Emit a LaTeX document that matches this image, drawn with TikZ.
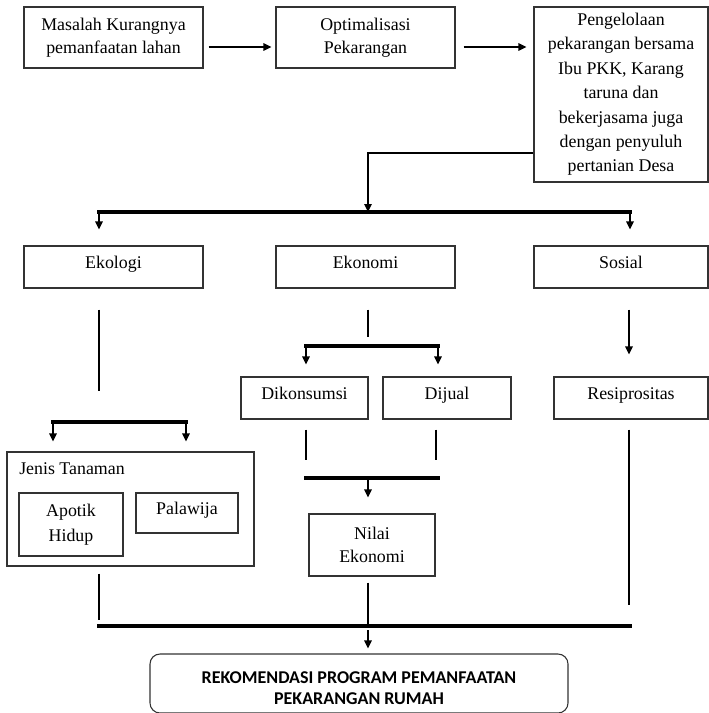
\documentclass[tikz,border=0pt]{standalone}
\usepackage{fontspec}
\setmainfont{Liberation Serif}
\newfontfamily\rekomfont{Carlito}
\usetikzlibrary{arrows.meta,calc}

\begin{document}
\begin{tikzpicture}[
  x=0.75pt,y=-0.75pt,
  font=\fontsize{13.4}{17}\selectfont,
  box/.style={rectangle,draw=black!80,line width=0.8pt,align=center,inner sep=0pt,
              minimum width=134.25pt,minimum height=31.5pt},
  onel/.style={text height=7pt,text depth=5pt},
  sidebox/.style={box,minimum width=130.5pt},
  subbox/.style={box,onel,minimum height=31.5pt},
  arr/.style={-{Stealth[length=6pt,width=5.5pt,inset=0pt]},line width=1.9pt},
  thinarr/.style={arr,line width=1.5pt},
  ln/.style={line width=1.9pt},
  bar/.style={line width=2.3pt,line cap=rect},
]
\useasboundingbox (0,0) rectangle (709,713);

% top row: problem -> optimisation -> management
\node[box,minimum height=45.75pt] (masalah) at (113.5,37.5) {Masalah Kurangnya\\pemanfaatan lahan};
\node[box,minimum height=45.75pt] (optim) at (365.5,37.5) {Optimalisasi\\Pekarangan};
\node[sidebox,minimum height=131.25pt,font=\fontsize{13.4}{18.3}\selectfont] (kelola) at (621,94.5)
  {Pengelolaan\\pekarangan bersama\\Ibu PKK, Karang\\taruna dan\\bekerjasama juga\\dengan penyuluh\\pertanian Desa};

\draw[arr] ($(masalah.east)+(5,9.5)$) -- ($(optim.west)+(-4,9.5)$);
\draw[arr] ($(optim.east)+(8,9.5)$) -- ($(kelola.west)+(-7,-47.5)$);

% three aspects
\node[box,onel] (ekologi) at (113.5,267) {Ekologi};
\node[box,onel] (ekonomi) at (365.5,267) {Ekonomi};
\node[sidebox,onel] (sosial) at (621,267) {Sosial};

\coordinate (split) at (368,212);
\coordinate (splitL) at (99,212);
\coordinate (splitR) at (630,212);
\draw[arr] ($(kelola.west)+(0,58.5)$) -| (split);
\draw[bar] (splitL) -- (splitR);
\draw[arr] (splitL) -- ($(ekologi.north -| splitL)+(0,-16)$);
\draw[arr] (splitR) -- ($(sosial.north -| splitR)+(0,-16)$);

% second level
\node[subbox,minimum width=95.25pt] (konsumsi) at (304.5,398) {Dikonsumsi};
\node[subbox,minimum width=96pt] (dijual) at (447,398) {Dijual};
\node[subbox,minimum width=115.5pt] (resip) at (631,398) {Resiprositas};

\node[box,minimum width=185.25pt,minimum height=85.5pt] (jenis) at (130.5,509) {};
\node[anchor=west,inner sep=0pt] (jenislbl) at (19,469) {Jenis Tanaman};
\node[box,minimum width=78pt,minimum height=47.25pt,font=\fontsize{13.4}{18.5}\selectfont] (apotik) at (71,524.5) {Apotik\\Hidup};
\node[box,onel,minimum width=76.5pt,minimum height=30pt] (palawija) at (187,513) {Palawija};

\node[box,minimum width=94.5pt,minimum height=46.5pt] (nilai) at (372,545) {Nilai\\Ekonomi};

% ekologi branch
\coordinate (ekoL) at (53,422);
\coordinate (ekoR) at (186,422);
\draw[ln] ($(ekologi.south -| splitL)+(0,21)$) -- ($(jenis.north -| splitL)+(0,-60)$);
\draw[bar] (ekoL) -- (ekoR);
\draw[arr] (ekoL) -- ($(jenis.north -| ekoL)+(0,-10)$);
\draw[arr] (ekoR) -- ($(jenis.north -| ekoR)+(0,-10)$);

% ekonomi branch
\coordinate (ekonL) at (306,346);
\coordinate (ekonR) at (438,346);
\coordinate (mergeL) at (306,478);
\coordinate (mergeR) at (438,478);
\coordinate (merge) at (368,478);
\draw[ln] ($(ekonomi.south -| split)+(0,21)$) -- ($(ekonomi.south -| split)+(0,48)$);
\draw[bar] (ekonL) -- (ekonR);
\draw[arr] (ekonL) -- ($(konsumsi.north -| ekonL)+(0,-12)$);
\draw[arr] (ekonR) -- ($(dijual.north -| ekonR)+(0,-12)$);
\draw[ln] ($(konsumsi.south -| ekonL)+(0,10)$) -- ($(konsumsi.south -| ekonL)+(0,40)$);
\draw[ln] ($(dijual.south -| ekonR)+(-2,10)$) -- ($(dijual.south -| ekonR)+(-2,40)$);
\draw[bar] (mergeL) -- (mergeR);
\draw[arr] (merge) -- ($(nilai.north -| merge)+(0,-16)$);

% sosial branch
\draw[thinarr] ($(sosial.south)+(8,21)$) -- ($(resip.north)+(-2,-22)$);
\draw[ln] ($(resip.south)+(-2,10)$) -- ($(resip.south)+(-2,185)$);

% recommendation
\node[box,rounded corners=7.5pt,minimum width=313.5pt,minimum height=44.25pt,
      font=\rekomfont\bfseries\fontsize{13.5}{15.75}\selectfont] (rekom) at (359,683.5)
  {\rule{0pt}{16pt}REKOMENDASI PROGRAM PEMANFAATAN\\PEKARANGAN RUMAH};

\coordinate (joinL) at (99,626);
\coordinate (joinR) at (630,626);
\coordinate (join) at (368,626);
\draw[ln] ($(jenis.south -| joinL)+(0,7)$) -- ($(jenis.south -| joinL)+(0,53)$);
\draw[ln] ($(nilai.south -| join)+(0,6)$) -- (join);
\draw[bar] (joinL) -- (joinR);
\draw[arr] ($(join)+(0,4)$) -- ($(rekom.north -| join)+(0,-5)$);
\end{tikzpicture}
\end{document}
